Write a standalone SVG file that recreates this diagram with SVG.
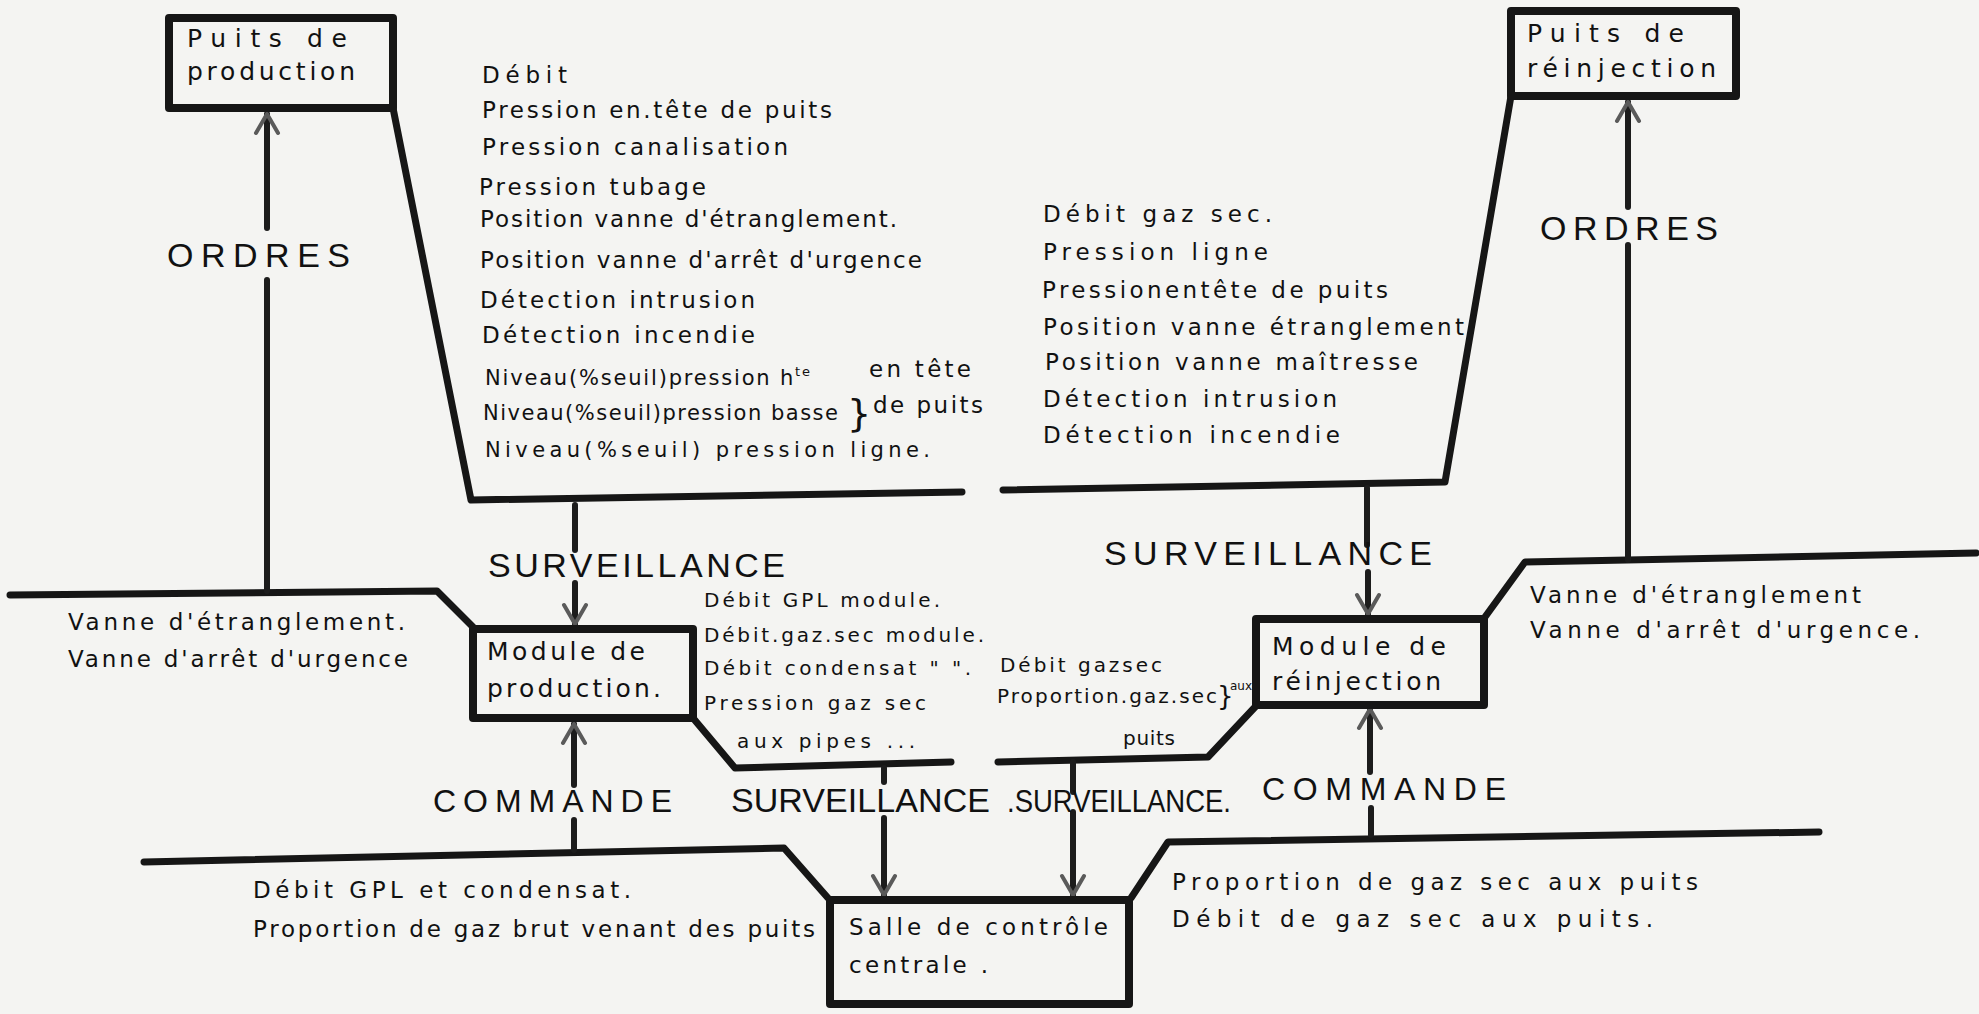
<svg xmlns="http://www.w3.org/2000/svg" width="1979" height="1014" viewBox="0 0 1979 1014">
<defs>
<style>
.ln{fill:none;stroke:#161616;stroke-width:7;stroke-linecap:round;stroke-linejoin:round}
.ar{fill:none;stroke:#1c1c1c;stroke-width:6;stroke-linecap:round}
.box{fill:none;stroke:#161616;stroke-width:8;stroke-linejoin:round}
.t{font-family:"DejaVu Sans","Liberation Sans",Arial,sans-serif;font-size:23px;fill:#111}
.s{font-size:20px}
.n{font-size:21px}
.b{font-size:25px}
.cap{font-family:"Liberation Sans",Arial,sans-serif;font-size:34px}
.cm{font-family:"Liberation Sans",Arial,sans-serif;font-size:32px}
</style>
<marker id="ah" viewBox="-22 -14 24 28" refX="0" refY="0" markerWidth="24" markerHeight="28" markerUnits="userSpaceOnUse" orient="auto">
<path d="M-19,-11 L0,0 L-19,11" fill="none" stroke="#5a5a5a" stroke-width="4" stroke-linecap="round" stroke-linejoin="round"/>
</marker>
</defs>
<rect x="0" y="0" width="1979" height="1014" fill="#f4f4f2"/>

<g id="connectors">
<path class="ln" d="M393,108 L471,500 L962,492"/>
<path class="ln" d="M1003,490 L1445,482 L1511,96"/>
<path class="ln" d="M10,595 L437,591 L473,627"/>
<path class="ln" d="M1976,553 L1525,562 L1485,617"/>
<path class="ln" d="M693,718 L735,768 L951,762"/>
<path class="ln" d="M998,762 L1208,757 L1256,706"/>
<path class="ln" d="M144,862 L784,848 L828,898"/>
<path class="ln" d="M1131,898 L1168,842 L1819,832"/>
<path class="ar" d="M267,591 L267,280"/>
<path class="ar" d="M267,228 L267,114" marker-end="url(#ah)"/>
<path class="ar" d="M1628,560 L1628,245"/>
<path class="ar" d="M1628,207 L1628,102" marker-end="url(#ah)"/>
<path class="ar" d="M575,505 L575,550"/>
<path class="ar" d="M575,583 L575,624" marker-end="url(#ah)"/>
<path class="ar" d="M1367,488 L1367,545"/>
<path class="ar" d="M1368,572 L1368,614" marker-end="url(#ah)"/>
<path class="ar" d="M574,850 L574,820"/>
<path class="ar" d="M574,785 L574,724" marker-end="url(#ah)"/>
<path class="ar" d="M1371,835 L1371,808"/>
<path class="ar" d="M1370,772 L1370,709" marker-end="url(#ah)"/>
<path class="ar" d="M884,768 L884,782"/>
<path class="ar" d="M884,818 L884,895" marker-end="url(#ah)"/>
<path class="ar" d="M1073,762 L1073,792"/>
<path class="ar" d="M1073,812 L1073,895" marker-end="url(#ah)"/>
</g>

<g id="puits-production">
<rect class="box" x="169" y="18" width="224" height="90"/>
<text class="t b" x="187" y="47" textLength="160" lengthAdjust="spacing">Puits de</text>
<text class="t b" x="187" y="80" textLength="168" lengthAdjust="spacing">production</text>
</g>

<g id="puits-reinjection">
<rect class="box" x="1511" y="11" width="225" height="85"/>
<text class="t b" x="1527" y="42" textLength="157" lengthAdjust="spacing">Puits de</text>
<text class="t b" x="1527" y="77" textLength="189" lengthAdjust="spacing">réinjection</text>
</g>

<g id="module-production">
<rect class="box" x="473" y="629" width="220" height="89"/>
<text class="t b" x="487" y="660" textLength="158" lengthAdjust="spacing">Module de</text>
<text class="t b" x="487" y="697" textLength="174" lengthAdjust="spacing">production.</text>
</g>

<g id="module-reinjection">
<rect class="box" x="1256" y="619" width="228" height="86"/>
<text class="t b" x="1272" y="655" textLength="174" lengthAdjust="spacing">Module de</text>
<text class="t b" x="1272" y="690" textLength="169" lengthAdjust="spacing">réinjection</text>
</g>

<g id="salle-controle">
<rect class="box" x="830" y="900" width="299" height="104"/>
<text class="t" x="849" y="935" textLength="259" lengthAdjust="spacing">Salle de contrôle</text>
<text class="t" x="849" y="973" textLength="139" lengthAdjust="spacing">centrale .</text>
</g>

<g id="labels">
<text class="t cap" x="167" y="267" textLength="183" lengthAdjust="spacing">ORDRES</text>
<text class="t cap" x="1540" y="240" textLength="178" lengthAdjust="spacing">ORDRES</text>
<text class="t cap" x="488" y="577" textLength="297" lengthAdjust="spacing">SURVEILLANCE</text>
<text class="t cap" x="1104" y="565" textLength="328" lengthAdjust="spacing">SURVEILLANCE</text>
<text class="t cap" x="731" y="812" textLength="259" lengthAdjust="spacing">SURVEILLANCE</text>
<text class="t cap" style="font-size:31px" x="1007" y="812" textLength="224" lengthAdjust="spacingAndGlyphs">.SURVEILLANCE.</text>
<text class="t cm" x="433" y="812" textLength="239" lengthAdjust="spacing">COMMANDE</text>
<text class="t cm" x="1262" y="800" textLength="244" lengthAdjust="spacing">COMMANDE</text>
</g>

<g id="liste-puits-production">
<text class="t" x="482" y="83" textLength="85" lengthAdjust="spacing">Débit</text>
<text class="t" x="482" y="118" textLength="350" lengthAdjust="spacing">Pression en.tête de puits</text>
<text class="t" x="482" y="155" textLength="306" lengthAdjust="spacing">Pression canalisation</text>
<text class="t" x="479" y="195" textLength="227" lengthAdjust="spacing">Pression tubage</text>
<text class="t" x="480" y="227" textLength="417" lengthAdjust="spacing">Position vanne d'étranglement.</text>
<text class="t" x="480" y="268" textLength="442" lengthAdjust="spacing">Position vanne d'arrêt d'urgence</text>
<text class="t" x="480" y="308" textLength="275" lengthAdjust="spacing">Détection intrusion</text>
<text class="t" x="482" y="343" textLength="273" lengthAdjust="spacing">Détection incendie</text>
<text class="t n" x="485" y="385" textLength="325" lengthAdjust="spacing">Niveau(%seuil)pression h<tspan font-size="13" dy="-9">te</tspan></text>
<text class="t n" x="483" y="420" textLength="355" lengthAdjust="spacing">Niveau(%seuil)pression basse</text>
<text class="t" style="font-size:38px" x="847" y="426">}</text>
<text class="t" x="869" y="377" textLength="102" lengthAdjust="spacing">en tête</text>
<text class="t" x="873" y="413" textLength="110" lengthAdjust="spacing">de puits</text>
<text class="t n" x="485" y="457" textLength="445" lengthAdjust="spacing">Niveau(%seuil) pression ligne.</text>
</g>

<g id="liste-puits-reinjection">
<text class="t" x="1043" y="222" textLength="229" lengthAdjust="spacing">Débit gaz sec.</text>
<text class="t" x="1043" y="260" textLength="225" lengthAdjust="spacing">Pression ligne</text>
<text class="t" x="1042" y="298" textLength="346" lengthAdjust="spacing">Pressionentête de puits</text>
<text class="t" x="1043" y="335" textLength="421" lengthAdjust="spacing">Position vanne étranglement</text>
<text class="t" x="1045" y="370" textLength="373" lengthAdjust="spacing">Position vanne maîtresse</text>
<text class="t" x="1043" y="407" textLength="294" lengthAdjust="spacing">Détection intrusion</text>
<text class="t" x="1043" y="443" textLength="297" lengthAdjust="spacing">Détection incendie</text>
</g>

<g id="liste-modules">
<text class="t s" x="704" y="607" textLength="236" lengthAdjust="spacing">Débit GPL module.</text>
<text class="t s" x="704" y="642" textLength="280" lengthAdjust="spacing">Débit.gaz.sec module.</text>
<text class="t s" x="704" y="675" textLength="267" lengthAdjust="spacing">Débit condensat " ".</text>
<text class="t s" x="704" y="710" textLength="222" lengthAdjust="spacing">Pression gaz sec</text>
<text class="t s" x="737" y="748" textLength="178" lengthAdjust="spacing">aux pipes ...</text>
<text class="t s" x="1000" y="672" textLength="162" lengthAdjust="spacing">Débit gazsec</text>
<text class="t s" x="997" y="703" textLength="220" lengthAdjust="spacing">Proportion.gaz.sec</text>
<text class="t" style="font-size:26px" x="1217" y="705">}</text>
<text class="t" style="font-size:12px" x="1230" y="690">aux</text>
<text class="t s" x="1123" y="745" textLength="52" lengthAdjust="spacing">puits</text>
</g>

<g id="liste-vannes">
<text class="t" x="68" y="630" textLength="337" lengthAdjust="spacing">Vanne d'étranglement.</text>
<text class="t" x="68" y="667" textLength="340" lengthAdjust="spacing">Vanne d'arrêt d'urgence</text>
<text class="t" x="1530" y="603" textLength="331" lengthAdjust="spacing">Vanne d'étranglement</text>
<text class="t" x="1530" y="638" textLength="390" lengthAdjust="spacing">Vanne d'arrêt d'urgence.</text>
</g>

<g id="liste-commande">
<text class="t" x="253" y="898" textLength="378" lengthAdjust="spacing">Débit GPL et condensat.</text>
<text class="t" x="253" y="937" textLength="562" lengthAdjust="spacing">Proportion de gaz brut venant des puits</text>
<text class="t" x="1172" y="890" textLength="526" lengthAdjust="spacing">Proportion de gaz sec aux puits</text>
<text class="t" x="1172" y="927" textLength="481" lengthAdjust="spacing">Débit de gaz sec aux puits.</text>
</g>
</svg>
